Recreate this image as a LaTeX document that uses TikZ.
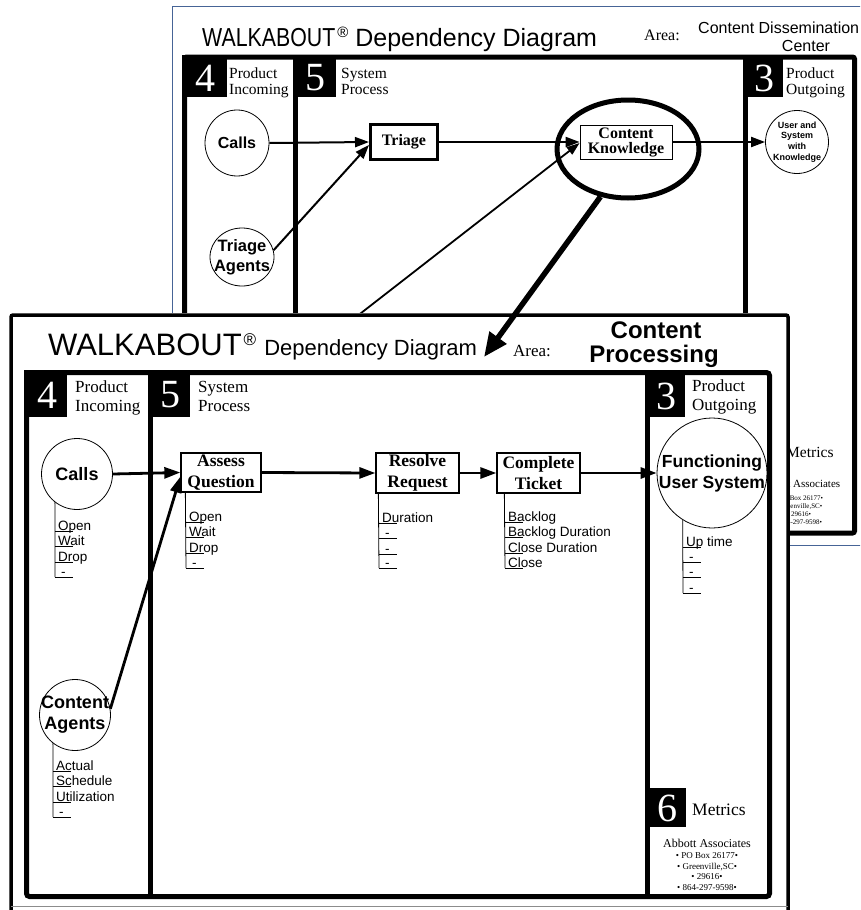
\documentclass[tikz,border=0pt]{standalone}
\usepackage{fontspec}
\usepackage{graphicx}
\setmainfont{Liberation Serif}
\newfontfamily\arial{Liberation Sans}
\usetikzlibrary{arrows.meta,shapes.geometric}
\definecolor{bluefr}{RGB}{70,100,150}
\begin{document}
\begin{tikzpicture}[x=1pt,y=-1pt,
  myhdr/.style={fill=black},
  mynum/.style={text=white,font=\fontsize{40}{40}\selectfont,inner sep=0},
  myhtxt/.style={font=\fontsize{17}{17}\selectfont,anchor=base west,inner sep=0},
  mybhtxt/.style={font=\fontsize{15.5}{15.5}\selectfont,anchor=base west,inner sep=0},
  myring/.style={circle,draw,line width=0.8,inner sep=0},
  myoval/.style={ellipse,draw,line width=0.8,inner sep=0},
  myctext/.style={font=\arial\bfseries\fontsize{18}{21}\selectfont,align=center,inner sep=0},
  mybctext/.style={font=\arial\bfseries\fontsize{16}{20}\selectfont,align=center,inner sep=0},
  procbox/.style={draw,line width=1.3,inner sep=0,align=center,font=\bfseries\fontsize{17.5}{21}\selectfont,minimum height=39},
  myitem/.style={font=\arial\fontsize{13.5}{14}\selectfont,anchor=base west,inner sep=0},
  mystem/.style={line width=0.8},
  myarr/.style={line width=2.8,-{Triangle[length=16pt,width=11pt]}},
  mybarr/.style={line width=2,-{Triangle[length=14pt,width=10pt]}},
  addr/.style={font=\fontsize{9}{9}\selectfont,anchor=base,inner sep=0},
  baddr/.style={font=\fontsize{7}{7}\selectfont,anchor=base,inner sep=0},
]
\useasboundingbox (0,0) rectangle (860,910);
\clip (0,0) rectangle (860,910);

%================ BACK PAGE =================
\draw[bluefr,line width=1] (172,6) rectangle (880,545);
\node[anchor=base west,inner sep=0,font=\arial\fontsize{26}{26}\selectfont] (btitle) at (202,46)
  {\scalebox{0.82}[1]{WALKABOUT}\hspace{2pt}\raisebox{9pt}{\fontsize{15}{15}\selectfont ®}\hspace{7pt}\fontsize{25}{25}\selectfont Dependency Diagram};
\node[anchor=base west,inner sep=0,font=\fontsize{16}{16}\selectfont] (barea) at (644,40) {Area:};
\node[anchor=base west,inner sep=0,font=\arial\fontsize{16}{16}\selectfont] (bareaA) at (698,33) {Content Dissemination};
\node[anchor=base,inner sep=0,font=\arial\fontsize{16}{16}\selectfont] (bareaB) at (806,51) {Center};

% frame and columns
\fill[myhdr] (182,54.5) rectangle (227,97);
\fill[myhdr] (292.5,54.5) rectangle (336,97);
\fill[myhdr] (742.5,54.5) rectangle (783,97);
\draw[line width=5,rounded corners=2] (184.5,57) rectangle (854.5,533);
\draw[line width=5] (295,57) -- (295,533);
\draw[line width=5] (745,57) -- (745,533);
\node[mynum] (b4) at (205,78) {4};
\node[mynum] (b5) at (315,78) {5};
\node[mynum] (b3) at (764,78) {3};
\node[mybhtxt] (bpi1) at (229,78) {Product};
\node[mybhtxt] (bpi2) at (229,94) {Incoming};
\node[mybhtxt] (bsp1) at (341,78) {System};
\node[mybhtxt] (bsp2) at (341,94) {Process};
\node[mybhtxt] (bpo1) at (786,78) {Product};
\node[mybhtxt] (bpo2) at (786,94) {Outgoing};
\node[mybhtxt] (bmet) at (786,457) {Metrics};
\node[anchor=base,inner sep=0,font=\fontsize{11}{11}\selectfont] (babb) at (800,487) {Abbott Associates};
\node[baddr] (bad1) at (799,500) {• PO Box 26177•};
\node[baddr] (bad2) at (799,508) {• Greenville,SC•};
\node[baddr] (bad3) at (799,516) {• 29616•};
\node[baddr] (bad4) at (799,524) {• 864-297-9598•};

% back nodes
\node[myoval,minimum width=64,minimum height=66] (bcalls) at (237,143) {};
\node[mybctext] (bcallsT) at (bcalls) {Calls};
\node[myoval,minimum width=64,minimum height=58] (tagents) at (242,257) {};
\node[mybctext,font=\arial\bfseries\fontsize{16.5}{20}\selectfont] (tagentsT) at (tagents) {Triage\\Agents};
\node[draw,line width=3,minimum width=67,minimum height=35,inner sep=0,font=\bfseries\fontsize{16}{16}\selectfont] (triage) at (404,142) {Triage};
\node[draw,line width=0.8,minimum width=92,minimum height=34,inner sep=0,align=center,font=\bfseries\fontsize{16}{15}\selectfont] (ck) at (626,142) {Content\\Knowledge};
\node[myoval,minimum width=63,minimum height=63] (user) at (797,142) {};
\node[align=center,inner sep=0,font=\arial\bfseries\fontsize{9}{10.8}\selectfont] (userT) at (user) {User and\\System\\with\\Knowledge};
\node[ellipse,draw,line width=5,minimum width=142,minimum height=98,inner sep=0] (bigell) at (628,149) {};

\draw[mybarr] (bcalls.east) -- (triage.west);
\draw[mybarr] (tagents.12) -- ([yshift=-3pt]triage.west);
\draw[mybarr] (triage.east) -- (ck.west);
\draw[mybarr] (ck.east) -- (user.west);
\coordinate (bfar) at (320,345);
\draw[line width=1.8,-{Triangle[length=13pt,width=9pt]}] (bfar) -- ([yshift=-1pt]ck.west);

%================ FRONT PAGE =================
\fill[white] (9,313) rectangle (790,910);
\draw[line width=3.5,rounded corners=2] (11,912) -- (11,315) -- (788,315) -- (788,912);
\draw[black!45,line width=1] (11,906) -- (788,906);

\node[anchor=base west,inner sep=0,font=\arial\fontsize{31}{31}\selectfont] (ftitle) at (48,355)
  {WALKABOUT\hspace{2pt}\raisebox{10pt}{\fontsize{17}{17}\selectfont ®}\hspace{2pt}\fontsize{22}{22}\selectfont\ Dependency Diagram};
\node[anchor=base west,inner sep=0,font=\fontsize{17}{17}\selectfont] (farea) at (513,356) {Area:};
\node[anchor=base,inner sep=0,font=\arial\bfseries\fontsize{24}{24}\selectfont] (fareaA) at (656,338) {Content};
\node[anchor=base,inner sep=0,font=\arial\bfseries\fontsize{24}{24}\selectfont] (fareaB) at (654,362) {Processing};

% frame and columns
\fill[myhdr] (24,370) rectangle (67,417);
\fill[myhdr] (147.5,370) rectangle (190,417);
\fill[myhdr] (645,370) rectangle (685,417);
\fill[myhdr] (645,788) rectangle (686,827);
\draw[line width=5,rounded corners=3] (26.5,372.5) rectangle (769.5,896.5);
\draw[line width=5] (150,372.5) -- (150,896.5);
\draw[line width=5] (647.5,372.5) -- (647.5,896.5);
\node[mynum] (f4) at (47,395) {4};
\node[mynum] (f5) at (170,395) {5};
\node[mynum] (f3) at (666,396) {3};
\node[mynum] (f6) at (667,808) {6};
\node[myhtxt] (fpi1) at (75,392) {Product};
\node[myhtxt] (fpi2) at (75,411) {Incoming};
\node[myhtxt] (fsp1) at (198,392) {System};
\node[myhtxt] (fsp2) at (198,411) {Process};
\node[myhtxt] (fpo1) at (692,391) {Product};
\node[myhtxt] (fpo2) at (692,410) {Outgoing};
\node[myhtxt,font=\fontsize{17.5}{17.5}\selectfont] (fmet) at (692,815) {Metrics};
\node[anchor=base,inner sep=0,font=\fontsize{12}{12}\selectfont] (fabb) at (707,847) {Abbott Associates};
\node[addr] (fad1) at (707,858) {• PO Box 26177•};
\node[addr] (fad2) at (707,869) {• Greenville,SC•};
\node[addr] (fad3) at (707,879.5) {• 29616•};
\node[addr] (fad4) at (707,890) {• 864-297-9598•};

% front nodes
\node[myring,minimum size=71] (calls) at (77,474) {};
\node[myctext] (callsT) at (calls) {Calls};
\node[myring,minimum size=71] (agents) at (75,715) {};
\node[myctext] (agentsT) at (agents) {Content\\Agents};
\node[procbox,minimum width=80] (assess) at (221,472.5) {Assess\\Question};
\node[procbox,minimum width=83,minimum height=40] (resolve) at (417.5,473) {Resolve\\Request};
\node[procbox,minimum width=83,minimum height=40] (complete) at (538.5,473) {Complete\\Ticket};
\node[myring,minimum size=110] (func) at (712,473) {};
\node[myctext,font=\arial\bfseries\fontsize{17.5}{21}\selectfont] (funcT) at (func) {Functioning\\User System};

% arrows
\draw[myarr] (calls.east) -- (assess.west);
\draw[myarr] (assess.east) -- (resolve.west);
\draw[myarr] (resolve.east) -- (complete.west);
\draw[myarr] (complete.east) -- (func.west);
\draw[myarr] (agents.10) -- ([yshift=16pt]assess.south west);

% lists: Calls
\draw[mystem] (calls.-128) -- (55,577);
\foreach \yy in {531,546,562,577} \draw[mystem] (55,\yy) -- ++(18,0);
\node[myitem] (c1) at (58,530) {Open};
\node[myitem] (c2) at (58,545) {Wait};
\node[myitem] (c3) at (58,561) {Drop};
\node[myitem] (c4) at (61,576) {-};
% Assess
\draw[mystem] ([xshift=5pt]assess.south west) -- (186,568);
\foreach \yy in {522,537,553,568} \draw[mystem] (186,\yy) -- ++(18,0);
\node[myitem] (a1) at (189,521) {Open};
\node[myitem] (a2) at (189,536) {Wait};
\node[myitem] (a3) at (189,552) {Drop};
\node[myitem] (a4) at (192,567) {-};
% Resolve
\draw[mystem] ([xshift=3pt]resolve.south west) -- (379,568);
\foreach \yy in {523,538,554,568} \draw[mystem] (379,\yy) -- ++(18,0);
\node[myitem] (r1) at (382,522) {Duration};
\node[myitem] (r2) at (385,537) {-};
\node[myitem] (r3) at (385,553) {-};
\node[myitem] (r4) at (385,567) {-};
% Complete
\draw[mystem] ([xshift=8pt]complete.south west) -- (505,568);
\foreach \yy in {522,537,553,568} \draw[mystem] (505,\yy) -- ++(18,0);
\node[myitem] (t1) at (508,521) {Backlog};
\node[myitem] (t2) at (508,536) {Backlog Duration};
\node[myitem] (t3) at (508,552) {Close Duration};
\node[myitem] (t4) at (508,567) {Close};
% Functioning
\draw[mystem] (func.-122) -- (683,593);
\foreach \yy in {547,562,577,593} \draw[mystem] (683,\yy) -- ++(18,0);
\node[myitem] (u1) at (686,546) {Up time};
\node[myitem] (u2) at (689,561) {-};
\node[myitem] (u3) at (689,576) {-};
\node[myitem] (u4) at (689,592) {-};
% Content Agents
\draw[mystem] (agents.-128) -- (53,817);
\foreach \yy in {771,786,802,817} \draw[mystem] (53,\yy) -- ++(18,0);
\node[myitem] (g1) at (56,770) {Actual};
\node[myitem] (g2) at (56,785) {Schedule};
\node[myitem] (g3) at (56,801) {Utilization};
\node[myitem] (g4) at (59,816) {-};

%================ ZOOM ARROW (on top) =================
\coordinate (ztip) at (484,357);
\draw[line width=5.5,-{Triangle[length=24pt,width=20pt]}] (bigell.-120) -- (ztip);
\end{tikzpicture}
\end{document}
